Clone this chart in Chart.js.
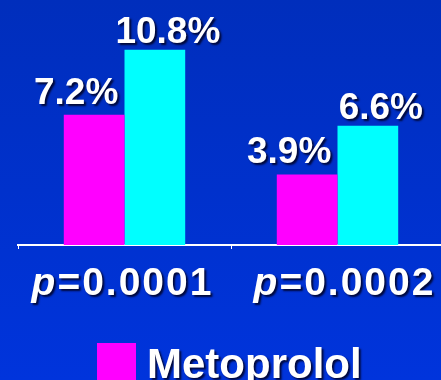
<!DOCTYPE html>
<html>
<head>
<meta charset="utf-8">
<script src="https://cdn.jsdelivr.net/npm/chart.js@4/dist/chart.umd.min.js"></script>
<style>
  html, body { margin: 0; padding: 0; width: 441px; height: 380px; overflow: hidden; background: #0033d0; }
  #wrap { position: absolute; left: 0; top: 0; }
</style>
</head>
<body>
<div id="wrap"><canvas id="chart" width="462" height="380"></canvas></div>
<script>
// Event rates by endpoint, with the p-value shown under each pair of bars
const groupLabels = ['p=0.0001', 'p=0.0002'];
const seriesNames = ['Metoprolol', 'Placebo'];
const metoprolol = [7.2, 3.9];
const placebo = [10.8, 6.6];
const seriesColors = ['#ff00ff', '#00ffff'];

const FONT = '"Liberation Sans", Arial, Helvetica, sans-serif';

function setShadow(ctx) {
  ctx.shadowColor = 'rgba(0, 0, 30, 0.85)';
  ctx.shadowOffsetX = 2;
  ctx.shadowOffsetY = 2;
  ctx.shadowBlur = 2;
}

// Blue slide background
const backdrop = {
  id: 'backdrop',
  beforeDraw(chart) {
    const { ctx, width, height } = chart;
    const g = ctx.createLinearGradient(0, 0, 0, height);
    g.addColorStop(0, 'rgb(0, 46, 188)');
    g.addColorStop(1, 'rgb(0, 52, 220)');
    ctx.save();
    ctx.fillStyle = g;
    ctx.fillRect(0, 0, width, height);
    ctx.restore();
  }
};

// Percentage labels above each bar
const valueLabels = {
  id: 'valueLabels',
  afterDatasetsDraw(chart) {
    const { ctx } = chart;
    const dx = [-18, 13];
    const dy = [11, 7];
    ctx.save();
    ctx.font = 'bold 37px ' + FONT;
    ctx.fillStyle = '#ffffff';
    ctx.textAlign = 'center';
    ctx.textBaseline = 'alphabetic';
    setShadow(ctx);
    chart.data.datasets.forEach((ds, di) => {
      chart.getDatasetMeta(di).data.forEach((bar, i) => {
        ctx.fillText(ds.data[i].toFixed(1) + '%', bar.x + dx[di], bar.y - dy[di]);
      });
    });
    ctx.restore();
  }
};

// Category labels with an italic "p"
const pLabels = {
  id: 'pLabels',
  afterDraw(chart) {
    const { ctx } = chart;
    const scale = chart.scales.x;
    const baseline = 295;
    const shift = [-2, 7];
    ctx.save();
    ctx.fillStyle = '#ffffff';
    ctx.textBaseline = 'alphabetic';
    ctx.textAlign = 'left';
    if ('letterSpacing' in ctx) ctx.letterSpacing = '2px';
    setShadow(ctx);
    scale.ticks.forEach((t, i) => {
      const text = chart.data.labels[i];
      const head = text.charAt(0);
      const rest = text.slice(1);
      ctx.font = 'italic bold 39px ' + FONT;
      const wHead = ctx.measureText(head).width;
      ctx.font = 'bold 39px ' + FONT;
      const wRest = ctx.measureText(rest).width;
      const cx = scale.getPixelForTick(i) + shift[i];
      const x0 = cx - (wHead + wRest) / 2;
      ctx.font = 'italic bold 39px ' + FONT;
      ctx.fillText(head, x0, baseline);
      ctx.font = 'bold 39px ' + FONT;
      ctx.fillText(rest, x0 + wHead, baseline);
    });
    ctx.restore();
  }
};

// Legend: one entry per row under the axis
const stackedLegend = {
  id: 'stackedLegend',
  afterDraw(chart) {
    const { ctx } = chart;
    const left = 97, top = 343, box = 39, rowStep = 52;
    ctx.save();
    chart.data.datasets.forEach((ds, di) => {
      const y = top + di * rowStep;
      ctx.fillStyle = ds.backgroundColor;
      ctx.fillRect(left, y, box, box);
      ctx.font = 'bold 42px ' + FONT;
      ctx.fillStyle = '#ffffff';
      ctx.textBaseline = 'alphabetic';
      ctx.textAlign = 'left';
      setShadow(ctx);
      ctx.fillText(ds.label, left + box + 11, y + 35);
      ctx.shadowColor = 'transparent';
    });
    ctx.restore();
  }
};

new Chart(document.getElementById('chart'), {
  type: 'bar',
  data: {
    labels: groupLabels,
    datasets: [
      { label: seriesNames[0], data: metoprolol, backgroundColor: seriesColors[0] },
      { label: seriesNames[1], data: placebo, backgroundColor: seriesColors[1] }
    ]
  },
  options: {
    responsive: false,
    devicePixelRatio: 1,
    animation: false,
    layout: { padding: { top: 28, left: 18, right: 18, bottom: 75 } },
    datasets: { bar: { categoryPercentage: 0.57, barPercentage: 1.0, borderWidth: 0 } },
    plugins: {
      legend: { display: false },
      tooltip: { enabled: false }
    },
    scales: {
      x: {
        grid: { drawOnChartArea: false, drawTicks: true, tickLength: 4, color: '#ffffff', lineWidth: 1 },
        border: { display: true, color: '#ffffff', width: 2 },
        ticks: { color: 'rgba(0,0,0,0)', font: { size: 39, weight: 'bold', family: FONT }, padding: 6 },
        afterFit(scale) { scale.height = 60; }
      },
      y: {
        display: false,
        min: 0,
        max: 12
      }
    }
  },
  plugins: [backdrop, valueLabels, pLabels, stackedLegend]
});
</script>
</body>
</html>
